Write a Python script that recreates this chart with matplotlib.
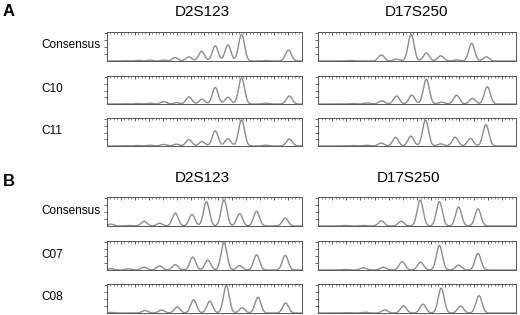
import numpy as np
import matplotlib
matplotlib.use("Agg")
import matplotlib.pyplot as plt

plt.rcParams['font.family'] = ['Liberation Sans', 'DejaVu Sans']

# peak positions (fraction of the trace window) and relative heights
a_d2_consensus_pos = [0.09, 0.16, 0.22, 0.29, 0.35, 0.42, 0.485, 0.555, 0.62, 0.69, 0.815, 0.93]
a_d2_consensus_h = [0.01, 0.02, 0.03, 0.03, 0.12, 0.15, 0.35, 0.55, 0.58, 0.97, 0.02, 0.40]
a_d2_c10_pos = [0.09, 0.16, 0.22, 0.29, 0.355, 0.42, 0.487, 0.555, 0.62, 0.69, 0.815, 0.935]
a_d2_c10_h = [0.01, 0.02, 0.03, 0.09, 0.05, 0.27, 0.18, 0.62, 0.25, 0.98, 0.03, 0.30]
a_d2_c11_pos = [0.09, 0.16, 0.22, 0.29, 0.355, 0.42, 0.487, 0.555, 0.62, 0.69, 0.815, 0.935]
a_d2_c11_h = [0.01, 0.02, 0.03, 0.06, 0.07, 0.24, 0.17, 0.57, 0.27, 0.98, 0.03, 0.26]

a_d17_consensus_pos = [0.164, 0.32, 0.397, 0.47, 0.547, 0.62, 0.70, 0.776, 0.85]
a_d17_consensus_h = [0.02, 0.22, 0.07, 0.96, 0.29, 0.19, 0.04, 0.64, 0.15]
a_d17_c10_pos = [0.172, 0.25, 0.322, 0.397, 0.474, 0.547, 0.624, 0.70, 0.78, 0.855]
a_d17_c10_h = [0.02, 0.04, 0.12, 0.30, 0.33, 0.93, 0.07, 0.33, 0.21, 0.65]
a_d17_c11_pos = [0.172, 0.247, 0.319, 0.392, 0.469, 0.543, 0.62, 0.693, 0.77, 0.848]
a_d17_c11_h = [0.02, 0.03, 0.11, 0.32, 0.37, 0.97, 0.08, 0.33, 0.28, 0.80]

b_d2_consensus_pos = [0.02, 0.11, 0.19, 0.27, 0.35, 0.436, 0.51, 0.60, 0.68, 0.767, 0.914]
b_d2_consensus_h = [0.07, 0.02, 0.17, 0.10, 0.47, 0.42, 0.88, 0.95, 0.45, 0.53, 0.29]
b_d2_c07_pos = [0.02, 0.11, 0.19, 0.27, 0.35, 0.44, 0.517, 0.60, 0.68, 0.767, 0.914]
b_d2_c07_h = [0.05, 0.04, 0.10, 0.15, 0.19, 0.47, 0.36, 0.98, 0.16, 0.55, 0.53]
b_d2_c08_pos = [0.02, 0.195, 0.28, 0.36, 0.444, 0.527, 0.612, 0.693, 0.774, 0.916]
b_d2_c08_h = [0.02, 0.09, 0.11, 0.22, 0.48, 0.43, 0.99, 0.19, 0.57, 0.36]

b_d17_consensus_pos = [0.137, 0.229, 0.32, 0.42, 0.516, 0.613, 0.71, 0.808]
b_d17_consensus_h = [0.02, 0.02, 0.19, 0.17, 0.94, 0.88, 0.69, 0.62]
b_d17_c07_pos = [0.137, 0.229, 0.329, 0.425, 0.518, 0.613, 0.71, 0.808]
b_d17_c07_h = [0.02, 0.08, 0.10, 0.30, 0.29, 0.89, 0.18, 0.60]
b_d17_c08_pos = [0.137, 0.237, 0.337, 0.432, 0.53, 0.622, 0.72, 0.813]
b_d17_c08_h = [0.01, 0.03, 0.11, 0.26, 0.32, 0.90, 0.25, 0.63]

row_labels = ["Consensus", "C10", "C11", "Consensus", "C07", "C08"]
marker_names = ["D2S123", "D17S250"]

panels = [
    [(a_d2_consensus_pos, a_d2_consensus_h), (a_d17_consensus_pos, a_d17_consensus_h)],
    [(a_d2_c10_pos, a_d2_c10_h), (a_d17_c10_pos, a_d17_c10_h)],
    [(a_d2_c11_pos, a_d2_c11_h), (a_d17_c11_pos, a_d17_c11_h)],
    [(b_d2_consensus_pos, b_d2_consensus_h), (b_d17_consensus_pos, b_d17_consensus_h)],
    [(b_d2_c07_pos, b_d2_c07_h), (b_d17_c07_pos, b_d17_c07_h)],
    [(b_d2_c08_pos, b_d2_c08_h), (b_d17_c08_pos, b_d17_c08_h)],
]

W, H = 520, 315
# row extents in pixels (top, bottom), column extents (left, right)
rows_px = [(32, 61), (76, 104), (118, 146), (197, 226), (241, 270), (284, 313)]
cols_px = [(107, 302), (318, 516)]

fig = plt.figure(figsize=(W / 100, H / 100), dpi=100)
fig.patch.set_facecolor("white")

x = np.linspace(0, 1, 800)
sigma = 0.015
line_c = "#8c8c8c"
spine_c = "#555555"

for r, (top, bot) in enumerate(rows_px):
    for c, (left, right) in enumerate(cols_px):
        ax = fig.add_axes([left / W, 1 - bot / H, (right - left) / W, (bot - top) / H])
        pos, h = panels[r][c]
        y = np.zeros_like(x)
        for p, hh in zip(pos, h):
            y += hh * np.exp(-0.5 * ((x - p) / sigma) ** 2)
        ax.plot(x, y, color=line_c, lw=1.0)
        ax.set_xlim(0, 1)
        ax.set_ylim(0, 1.05)
        for s in ax.spines.values():
            s.set_color(spine_c)
            s.set_linewidth(0.7)
        ax.set_xticks(np.linspace(0, 1, 15))
        ax.set_xticks(np.linspace(0, 1, 57), minor=True)
        ax.tick_params(axis="x", which="both", bottom=False, top=True, labelbottom=False,
                       direction="in", color=spine_c)
        ax.tick_params(axis="x", which="major", length=2, width=0.7)
        ax.tick_params(axis="x", which="minor", length=1.2, width=0.5)
        ax.set_yticks([0.25, 0.5, 0.75, 1.0])
        ax.tick_params(axis="y", left=True, labelleft=False, length=2, width=0.6,
                       direction="out", color=spine_c)

for r, (top, bot) in enumerate(rows_px):
    fig.text(41 / W, 1 - ((top + bot) / 2 - 1) / H, row_labels[r], fontsize=8.5,
             ha="left", va="center")

fig.text(202 / W, 1 - 12.5 / H, marker_names[0], fontsize=11, ha="center", va="center")
fig.text(417 / W, 1 - 12.5 / H, marker_names[1], fontsize=11, ha="center", va="center")
fig.text(202 / W, 1 - 178 / H, marker_names[0], fontsize=11, ha="center", va="center")
fig.text(409 / W, 1 - 178 / H, marker_names[1], fontsize=11, ha="center", va="center")

fig.text(9 / W, 1 - 11 / H, "A", fontsize=12, fontweight="bold", ha="center", va="center")
fig.text(9 / W, 1 - 182 / H, "B", fontsize=12, fontweight="bold", ha="center", va="center")

fig.savefig("out.png", dpi=100, facecolor="white")
